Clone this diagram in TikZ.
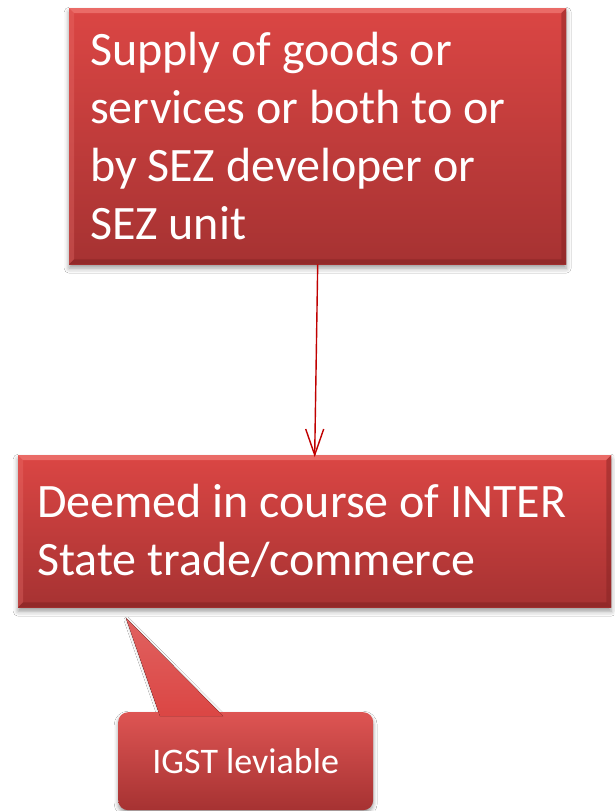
\documentclass[tikz,border=0pt]{standalone}
\usepackage{fontspec}
\setmainfont{Carlito}
\usetikzlibrary{shadows.blur}
\definecolor{boxtop}{RGB}{219,70,68}
\definecolor{boxbot}{RGB}{166,50,50}
\definecolor{bevlight}{RGB}{240,120,116}
\definecolor{bevdark}{RGB}{130,34,34}
\definecolor{linkred}{RGB}{192,0,0}
\protected\def\bigboxfont{\fontsize{48}{58}\selectfont}
\protected\def\tagfont{\fontsize{36}{42}\selectfont}
% tight word spacing as in the slide font
\protected\def\tightbig{\spaceskip=10.8pt\relax}
\protected\def\tighttag{\spaceskip=8.1pt\relax}
\tikzset{
  redbox/.style={top color=boxtop, bottom color=boxbot, draw=none, text=white,
    align=left, inner ysep=0pt, anchor=north west, font=\bigboxfont,
    blur shadow={shadow xshift=0pt, shadow yshift=-4pt, shadow blur radius=5pt, shadow opacity=40}},
  tagbox/.style={top color=boxtop!92!white, bottom color=boxbot, draw=none, text=white,
    align=center, rounded corners=10pt, anchor=north west, font=\tagfont,
    blur shadow={shadow xshift=0pt, shadow yshift=-3pt, shadow blur radius=4pt, shadow opacity=40}},
  link/.style={draw=linkred, line width=1.4pt},
}
% bevelled edges for a rectangular node
\newcommand{\bevelbox}[1]{%
  \fill[bevlight, opacity=0.75] (#1.north west) -- (#1.north east)
    -- ([xshift=-5pt,yshift=-5pt]#1.north east) -- ([xshift=5pt,yshift=-5pt]#1.north west) -- cycle;
  \fill[bevlight, opacity=0.30] (#1.north west) -- ([xshift=5pt,yshift=-5pt]#1.north west)
    -- ([xshift=5pt,yshift=5pt]#1.south west) -- (#1.south west) -- cycle;
  \fill[bevdark, opacity=0.45] (#1.north east) -- (#1.south east)
    -- ([xshift=-5pt,yshift=5pt]#1.south east) -- ([xshift=-5pt,yshift=-5pt]#1.north east) -- cycle;
  \fill[bevdark, opacity=0.55] (#1.south west) -- (#1.south east)
    -- ([xshift=-5pt,yshift=5pt]#1.south east) -- ([xshift=5pt,yshift=5pt]#1.south west) -- cycle;
}
\begin{document}
\begin{tikzpicture}[x=1pt, y=-1pt]
\useasboundingbox[fill=white] (0,0) rectangle (614,811);

\node[redbox, inner xsep=21pt, text width=455pt, minimum height=256pt] (supply) at (69,8)
  {\tightbig Supply of goods or\\services or both to or\\by SEZ developer or\\SEZ unit};
\bevelbox{supply}

\node[redbox, inner xsep=19pt, text width=555pt, minimum height=152pt] (deemed) at (18,455)
  {\tightbig Deemed in course of INTER\\State trade/commerce};
\bevelbox{deemed}

% connector between the two boxes
\draw[link] (supply.south) -- (deemed.north);
\draw[link, line join=miter] ([xshift=-9pt,yshift=26pt]deemed.north) -- (deemed.north)
  -- ([xshift=9pt,yshift=26pt]deemed.north);

% callout with its pointer
\coordinate (tip) at (126,618);
\fill[top color=boxtop!80!white, bottom color=boxtop!90!black,
  blur shadow={shadow xshift=1pt, shadow yshift=-2pt, shadow blur radius=3pt, shadow opacity=30}]
  (tip) -- (223,716) -- (160,716) -- cycle;
\node[tagbox, minimum width=255pt, minimum height=98pt] (igst) at (118,712) {\tighttag IGST leviable};
\fill[top color=boxtop!85!white, bottom color=boxtop] (tip) -- (223,716) -- (160,716) -- cycle;
\end{tikzpicture}
\end{document}
